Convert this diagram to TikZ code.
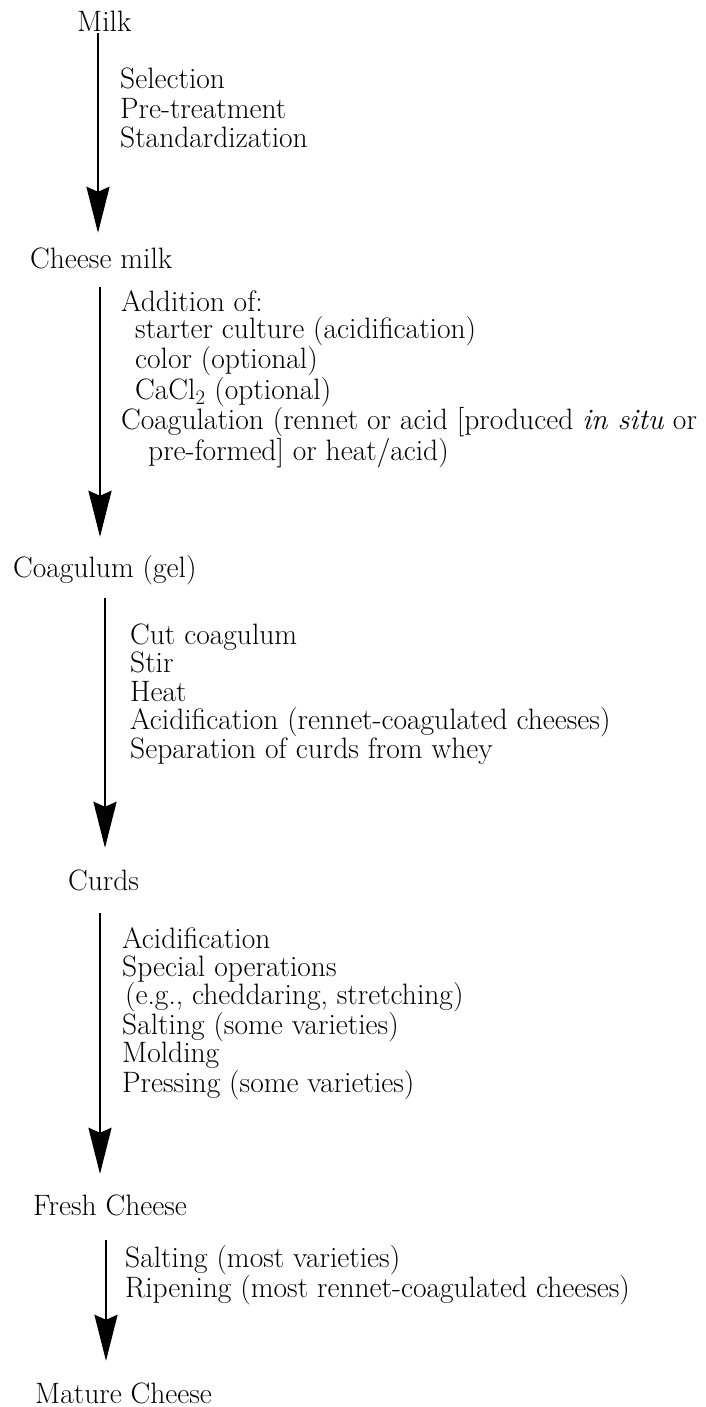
\documentclass[tikz,border=0pt]{standalone}
\usetikzlibrary{arrows.meta}

\begin{document}
\begin{tikzpicture}[x=1pt,y=-1pt,
	stage/.style={inner sep=0pt,anchor=base west,text height=19pt,text depth=0pt,
		font=\fontsize{29.5}{30}\selectfont},
	steps/.style={inner sep=0pt,anchor=base west,align=left,
		font=\fontsize{29.5}{#1}\selectfont},
	flow/.style={line width=2.6pt,-{Stealth[length=46pt,width=23pt,inset=5pt]}}]

\useasboundingbox (0,0) rectangle (706,1407);

% stages
\node[stage] (milk) at (77,32) {Milk};
\node[stage] (cheesemilk) at (30,268) {Cheese milk};
\node[stage] (coagulum) at (13,577) {Coagulum (gel)};
\node[stage] (curds) at (68,890) {Curds};
\node[stage] (fresh) at (33,1215) {Fresh Cheese};
\node[stage] (mature) at (35,1403) {Mature Cheese};

% steps between stages (base = last line)
\node[steps=29.5pt] (prep) at (120,148) {Selection\\Pre-treatment\\Standardization};
\node[steps=26.5pt] (coag) at (121,460) {Addition of:\\
	\hspace*{14pt}starter culture (acidification)\\
	\hspace*{14pt}color (optional)\\
	\hspace*{14pt}CaCl\textsubscript{2} (optional)\\
	Coagulation (rennet or acid [produced \textit{in situ} or\\
	\hspace*{27pt}pre-formed] or heat/acid)};
\node[steps=28.5pt] (cut) at (130,758) {Cut coagulum\\Stir\\Heat\\
	Acidification (rennet-coagulated cheeses)\\Separation of curds from whey};
\node[steps=28pt] (mold) at (122,1092) {Acidification\\Special operations\\
	\hspace*{3pt}(e.g., cheddaring, stretching)\\Salting (some varieties)\\
	Molding\\Pressing (some varieties)};
\node[steps=30pt] (ripen) at (125,1297) {Salting (most varieties)\\
	Ripening (most rennet-coagulated cheeses)};

\foreach \a/\b/\x/\s/\t in {milk/cheesemilk/98/1/16, cheesemilk/coagulum/100/19/21,
	coagulum/curds/105/21/23, curds/fresh/100/23/22, fresh/mature/106/25/23} {
	\draw[flow,shorten <=\s pt,shorten >=\t pt] (\a.south -| \x,0) -- (\b.north -| \x,0);
}

\end{tikzpicture}
\end{document}
